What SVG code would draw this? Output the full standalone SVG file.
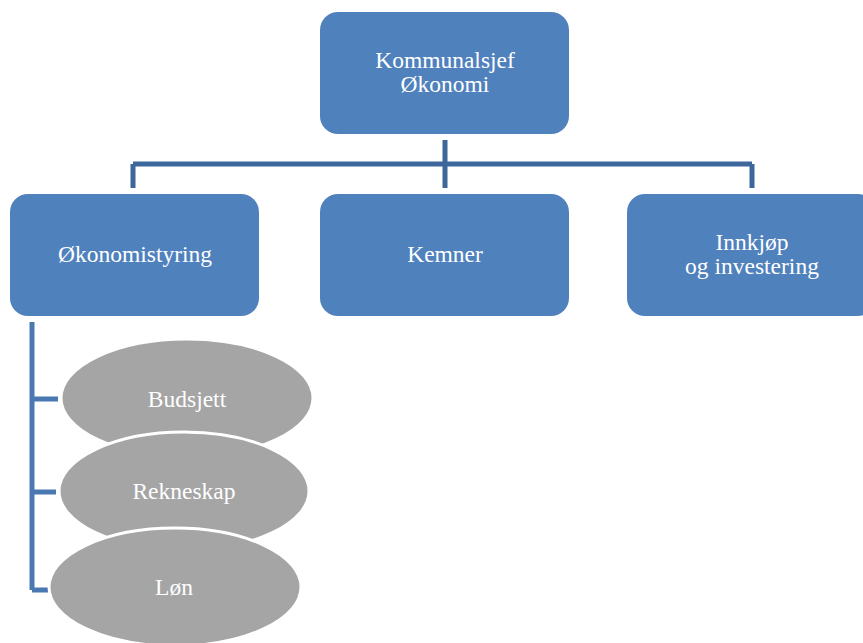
<svg xmlns="http://www.w3.org/2000/svg" width="863" height="643" viewBox="0 0 863 643">
  <style>
    .box { fill: #4F81BD; }
    .oval { fill: #A5A5A5; stroke: #FFFFFF; stroke-width: 3; }
    .lbl { font-family: 'Liberation Serif', 'DejaVu Serif', serif; font-size: 23.5px; fill: #FFFFFF; text-anchor: middle; }
    .wire { fill: none; stroke: #3D679B; stroke-width: 5; }
    .wire2 { fill: none; stroke: #4A78B2; stroke-width: 5; }
  </style>
  <rect width="863" height="643" fill="#FFFFFF"/>

  <g id="connectors">
    <path class="wire" d="M445 140 V188 M133 164 H752 M133 164 V188 M752 164 V188"/>
    <path class="wire2" d="M32 322 V590 M32 399 H58 M32 492 H56 M32 590 H48"/>
  </g>

  <g id="kommunalsjef">
    <rect class="box" x="320" y="12" width="249" height="122" rx="18"/>
    <text class="lbl" x="445" y="68">Kommunalsjef</text>
    <text class="lbl" x="445" y="92">Økonomi</text>
  </g>

  <g id="okonomistyring">
    <rect class="box" x="10" y="194" width="249" height="122" rx="18"/>
    <text class="lbl" x="135" y="262">Økonomistyring</text>
  </g>

  <g id="kemner">
    <rect class="box" x="320" y="194" width="249" height="122" rx="18"/>
    <text class="lbl" x="445" y="262">Kemner</text>
  </g>

  <g id="innkjop">
    <rect class="box" x="627" y="194" width="249" height="122" rx="18"/>
    <text class="lbl" x="752" y="250">Innkjøp</text>
    <text class="lbl" x="752" y="274">og investering</text>
  </g>

  <g id="budsjett">
    <ellipse class="oval" cx="187" cy="398" rx="126" ry="59"/>
    <text class="lbl" x="187" y="407">Budsjett</text>
  </g>

  <g id="rekneskap">
    <ellipse class="oval" cx="184" cy="491" rx="125" ry="59"/>
    <text class="lbl" x="184" y="499">Rekneskap</text>
  </g>

  <g id="lon">
    <ellipse class="oval" cx="175" cy="587" rx="126" ry="59"/>
    <text class="lbl" x="174" y="595">Løn</text>
  </g>
</svg>
